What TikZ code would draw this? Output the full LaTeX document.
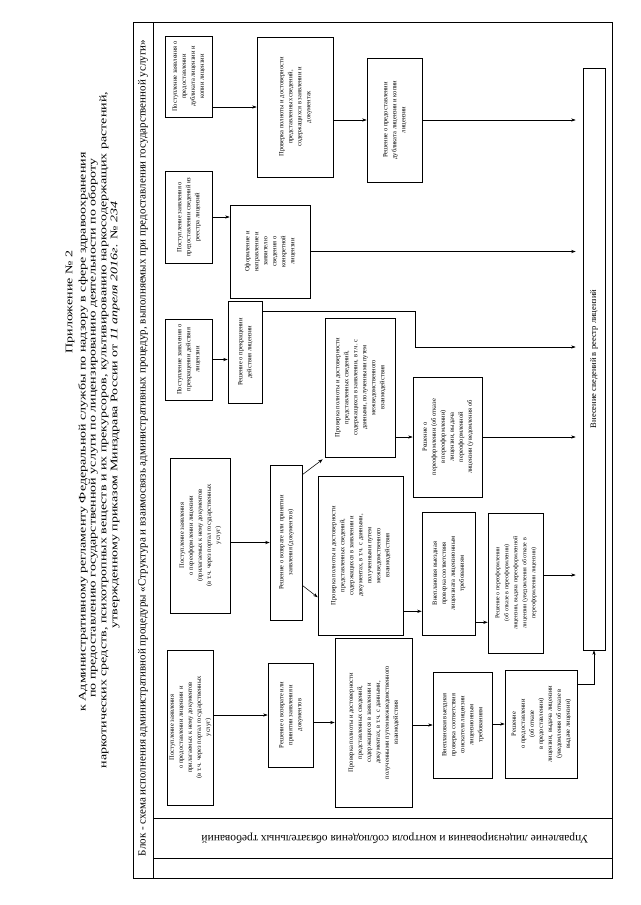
\documentclass[tikz,border=0pt]{standalone}
\usepackage{fontspec}
\setmainfont{Liberation Serif}
\usepackage{graphicx}
\usetikzlibrary{arrows.meta}
\newcommand{\rtx}[1]{\rotatebox{90}{\begin{tabular}{@{}c@{}}#1\end{tabular}}}
\newcommand{\mkbox}[6]{\node[bx,minimum width={(#3-#2)*1pt},minimum height={(#5-#4)*1pt}] (#1) at ({(#2+#3)/2},{(#4+#5)/2}) {\rtx{#6}};}
\newcommand{\sm}{\fontsize{6}{7.8}\selectfont}
\begin{document}
\begin{tikzpicture}[x=1pt,y=-1pt,
 bx/.style={draw,line width=0.6pt,inner sep=0pt,font=\fontsize{6.5}{9}\selectfont},
 ar/.style={line width=0.55pt,-{Stealth[length=4.5pt,width=3.2pt]}},
 hd/.style={rotate=90,inner sep=0pt,font=\fontsize{14}{14}\selectfont},
 frm/.style={line width=0.8pt}]
\useasboundingbox (0,0) rectangle (640,905);
\fill[white] (0,0) rectangle (640,905);
% header
\node[hd] (h1) at (70,302) {\scalebox{1}[0.72]{Приложение № 2}};
\node[hd] (h2) at (83,432) {\scalebox{1}[0.72]{к Административному регламенту Федеральной службы по надзору в сфере здравоохранения}};
\node[hd] (h3) at (93,428) {\scalebox{1}[0.72]{по предоставлению государственной услуги по лицензированию деятельности по обороту}};
\node[hd] (h4) at (104,430) {\scalebox{1}[0.72]{наркотических средств, психотропных веществ и их прекурсоров, культивированию наркосодержащих растений,}};
\node[hd] (h5) at (115,415) {\scalebox{1}[0.72]{утвержденному приказом Минздрава России от \textit{11 апреля 2016г.} № \textit{234}}};
% frame
\draw[frm] (133,22) rectangle (612,878);
\draw[frm] (153,22) -- (153,878);
\draw[frm] (153,818) -- (612,818);
\draw[frm] (153,858) -- (612,858);
\node[rotate=90,inner sep=0pt,font=\fontsize{11}{11}\selectfont] (title) at (143,448) {Блок - схема исполнения административной процедуры «Структура и взаимосвязь административных процедур, выполняемых при предоставлении государственной услуги»};
\node[rotate=180,inner sep=0pt,font=\fontsize{11.5}{11.5}\selectfont] (dept) at (395,838) {Управление лицензирования и контроля соблюдения обязательных требований};
% boxes
\mkbox{D1}{165}{212}{36}{117}{Поступление заявления о\\предоставлении\\дубликата лицензии и\\копии лицензии}
\mkbox{D2}{257}{333}{37}{177}{Проверка полноты и достоверности\\представленных сведений,\\содержащихся в заявлении и\\документах}
\mkbox{D3}{367}{422}{58}{182}{Решение о предоставлении\\дубликата лицензии и копии\\лицензии}
\mkbox{E1}{165}{212}{171}{263}{Поступление заявления о\\предоставлении сведений из\\реестра лицензий}
\mkbox{E2}{230}{310}{205}{298}{Оформление и\\направление и\\заявителю\\сведения о\\конкретной\\лицензии}
\mkbox{F1}{165}{212}{319}{400}{Поступление заявления о\\прекращении действия\\лицензии}
\mkbox{F2}{228}{262}{301}{403}{Решение о прекращении\\действия лицензии}
\mkbox{C1}{170}{230}{458}{613}{Поступление заявления\\о переоформлении лицензии\\(прилагаемых к нему документов\\(в т.ч. через портал государственных\\услуг)}
\mkbox{Cr}{270}{302}{465}{620}{Решение о возврате или принятии\\заявления (документов)}
\mkbox{C2}{325}{395}{318}{457}{Проверка полноты и достоверности\\представленных сведений,\\содержащихся в заявлении, в т.ч. с\\данными, полученными путем\\межведомственного\\взаимодействия}
\mkbox{C3}{318}{403}{476}{635}{Проверка полноты и достоверности\\представленных сведений,\\содержащихся в заявлении и\\документах, в т.ч. с данными,\\полученными путем\\межведомственного\\взаимодействия}
\mkbox{C2r}{413}{482}{377}{497}{Решение о\\переоформлении (об отказе\\в переоформлении)\\лицензии, выдача\\переоформленной\\лицензии (уведомления об}
\mkbox{C3a}{422}{475}{512}{635}{Внеплановая выездная\\проверка соответствия\\лицензиата лицензионным\\требованиям}
\mkbox{C3b}{488}{543}{513}{653}{\sm Решение о переоформлении\\\sm(об отказе в переоформлении)\\\sm лицензии, выдача переоформленной\\\sm лицензии (уведомления об отказе в\\\sm переоформлении лицензии)}
\mkbox{A1}{167}{213}{650}{805}{Поступление заявления\\о предоставлении лицензии и\\прилагаемых к нему документов\\(в т.ч. через портал государственных\\услуг)}
\mkbox{A2}{268}{313}{663}{767}{Решение о возврате или\\принятии заявления и\\документов}
\mkbox{A3}{335}{412}{638}{807}{Проверка полноты и достоверности\\представленных сведений,\\содержащихся в заявлении и\\документах, в т.ч. с данными,\\полученными путем межведомственного\\взаимодействия}
\mkbox{A4}{433}{492}{672}{778}{Внеплановая выездная\\проверка соответствия\\соискателя лицензии\\лицензионным\\требованиям}
\mkbox{A5}{505}{577}{670}{778}{Решение\\о предоставлении\\(об отказе\\в предоставлении)\\лицензии, выдача лицензии\\(уведомления об отказе в\\выдаче лицензии)}
\node[bx,font=\fontsize{8.5}{10}\selectfont,minimum width=22pt,minimum height=582pt] (R) at (594,359) {\rotatebox{90}{Внесение сведений в реестр лицензий}};
% connectors
\draw[ar] (D1.east |- D2.west) -- (D2.west);
\draw[ar] (D2.east |- D3.west) -- (D3.west);
\draw[ar,shorten >=7pt] (D3.east) -- (D3.east -| R.west);
\draw[ar] (E1.east) -- (E1.east -| E2.west);
\draw[ar,shorten >=7pt] (E2.east) -- (E2.east -| R.west);
\draw[ar] (F1.east) -- (F1.east -| F2.west);
\coordinate (fb) at (415,347);
\draw[ar,shorten >=7pt] ([yshift=-11pt]F2.north east) -- ([yshift=-11pt]F2.north east -| fb) -- (fb) -- (fb -| R.west);
\draw[ar] (C1.east |- Cr.west) -- (Cr.west);
\draw[ar] ([yshift=-10pt]Cr.north east) -- ([shift={(-2pt,-2pt)}]C2.south west);
\draw[ar] ([yshift=35pt]Cr.south east) -- ([yshift=38pt]C3.south west);
\draw[ar] (C2.east |- C2r.west) -- (C2r.west);
\draw[ar,shorten >=7pt] (C2r.east) -- (C2r.east -| R.west);
\draw[ar] ([yshift=24pt]C3.south east) -- ([yshift=24pt]C3.south east -| C3a.west);
\draw[ar] ([yshift=13pt]C3a.south east) -- ([yshift=13pt]C3a.south east -| C3b.west);
\draw[ar,shorten >=7pt] ([yshift=8pt]C3b.east) -- ([yshift=8pt]C3b.east -| R.west);
\draw[ar] (A1.east |- A2.west) -- (A2.west);
\draw[ar] (A2.east |- A3.west) -- (A3.west);
\draw[ar] (A3.east |- A4.west) -- (A4.west);
\draw[ar] (A4.east |- A5.west) -- (A5.west);
\draw[ar] ([yshift=-15pt]A5.north east) -| (R.south);
\end{tikzpicture}
\end{document}
